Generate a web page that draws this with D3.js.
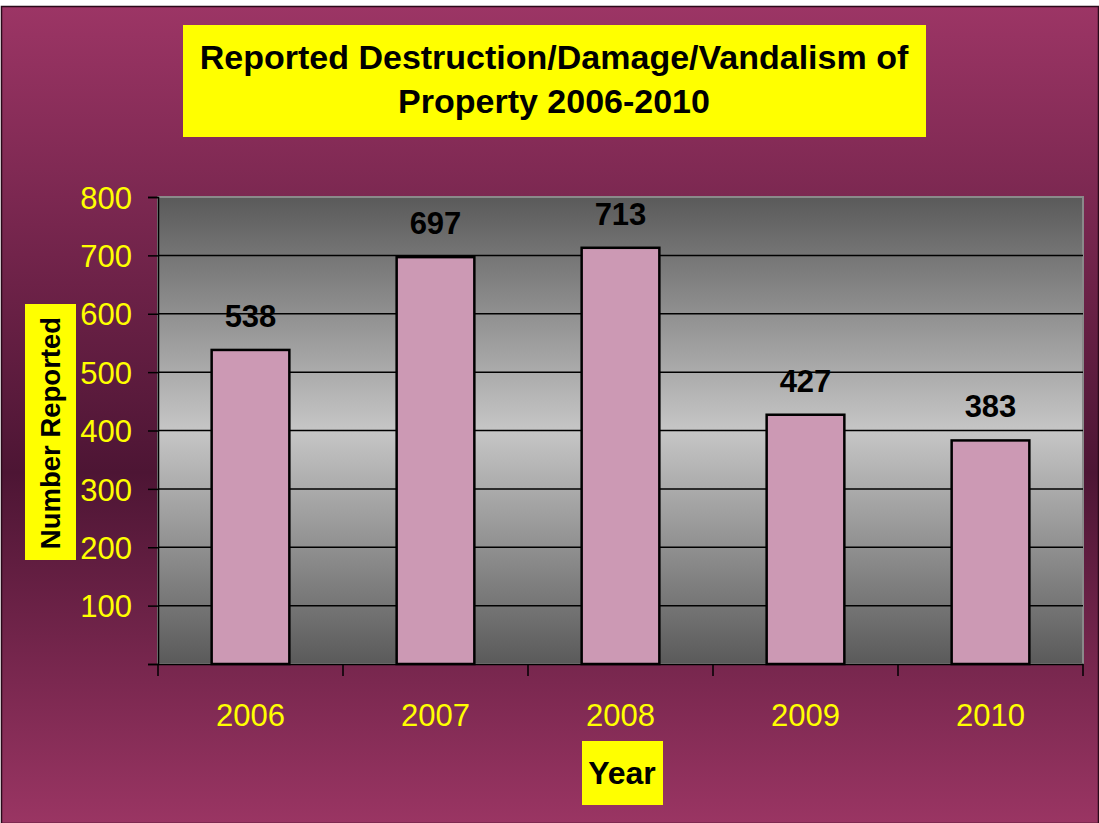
<!DOCTYPE html>
<html>
<head>
<meta charset="utf-8">
<script src="https://cdn.jsdelivr.net/npm/d3@7"></script>
<style>
  body { margin: 0; background: #fff; }
  svg { display: block; }
  text { font-family: "Liberation Sans", Arial, sans-serif; }
</style>
</head>
<body>
<svg id="chart" width="1099" height="823"></svg>
<script>
// data
var years = ["2006", "2007", "2008", "2009", "2010"];
var reported = [538, 697, 713, 427, 383];
var yTicks = [100, 200, 300, 400, 500, 600, 700, 800];
var titleLines = ["Reported Destruction/Damage/Vandalism of", "Property 2006-2010"];

var svg = d3.select("#chart"),
    width = +svg.attr("width"),
    height = +svg.attr("height");

var margin = {left: 158, right: 1083, top: 197, bottom: 664};

var defs = svg.append("defs");

var bg = defs.append("linearGradient").attr("id", "bgGrad")
    .attr("x1", 0).attr("y1", 0).attr("x2", 0).attr("y2", 1);
bg.append("stop").attr("offset", "0%").attr("stop-color", "#9c3565");
bg.append("stop").attr("offset", "57%").attr("stop-color", "#4d1534");
bg.append("stop").attr("offset", "100%").attr("stop-color", "#9a3563");

var pg = defs.append("linearGradient").attr("id", "plotGrad")
    .attr("x1", 0).attr("y1", 0).attr("x2", 0).attr("y2", 1);
pg.append("stop").attr("offset", "0%").attr("stop-color", "#5a5a5a");
pg.append("stop").attr("offset", "50%").attr("stop-color", "#c6c6c6");
pg.append("stop").attr("offset", "100%").attr("stop-color", "#5a5a5a");

// outer frame
svg.append("rect")
    .attr("x", 1.5).attr("y", 6.5)
    .attr("width", width - 2).attr("height", height - 6)
    .attr("fill", "url(#bgGrad)")
    .attr("stroke", "#2a0a1a").attr("stroke-width", 1.5);

var x = d3.scaleBand()
    .domain(years)
    .range([margin.left, margin.right])
    .paddingInner(0.58)
    .paddingOuter(0.29);

var band = d3.scaleBand().domain(years).range([margin.left, margin.right]);

var y = d3.scaleLinear()
    .domain([0, 800])
    .range([margin.bottom, margin.top]);

// plot area
svg.append("rect")
    .attr("x", margin.left).attr("y", margin.top)
    .attr("width", margin.right - margin.left)
    .attr("height", margin.bottom - margin.top)
    .attr("fill", "url(#plotGrad)")
    .attr("stroke", "#8a8a8a").attr("stroke-width", 2);

// gridlines
svg.append("g").selectAll("line")
    .data(yTicks.filter(function(d) { return d < 800; }))
    .enter().append("line")
    .attr("x1", margin.left).attr("x2", margin.right)
    .attr("y1", function(d) { return y(d); })
    .attr("y2", function(d) { return y(d); })
    .attr("stroke", "#000").attr("stroke-width", 1.5);

// y axis
var yAxis = svg.append("g")
    .attr("transform", "translate(" + margin.left + ",0)")
    .call(d3.axisLeft(y).tickValues([0].concat(yTicks)).tickSize(10).tickPadding(16)
        .tickFormat(function(d) { return d === 0 ? "" : d; }));
yAxis.select(".domain").attr("stroke", "#000").attr("stroke-width", 1.5);
yAxis.selectAll(".tick line").attr("stroke", "#000").attr("stroke-width", 1.5);
yAxis.selectAll(".tick text")
    .attr("fill", "#ffff00")
    .style("font-size", "31px")
    .attr("dy", "0.36em");

// x axis
var xAxis = svg.append("g")
    .attr("transform", "translate(0," + margin.bottom + ")")
    .call(d3.axisBottom(band).tickSize(0).tickPadding(40));
xAxis.select(".domain").attr("stroke", "#000").attr("stroke-width", 1.5);
xAxis.selectAll(".tick text")
    .attr("fill", "#ffff00")
    .style("font-size", "31px");

// x ticks at band boundaries
var bounds = years.map(function(d) { return band(d); }).concat([margin.right]);
svg.append("g").selectAll("line")
    .data(bounds)
    .enter().append("line")
    .attr("x1", function(d) { return d; })
    .attr("x2", function(d) { return d; })
    .attr("y1", margin.bottom).attr("y2", margin.bottom + 12)
    .attr("stroke", "#000").attr("stroke-width", 1.5);

// bars
svg.append("g").selectAll("rect")
    .data(reported)
    .enter().append("rect")
    .attr("x", function(d, i) { return x(years[i]); })
    .attr("y", function(d) { return y(d); })
    .attr("width", x.bandwidth())
    .attr("height", function(d) { return y(0) - y(d); })
    .attr("fill", "#cc99b4")
    .attr("stroke", "#000").attr("stroke-width", 2.5);

// value labels
svg.append("g").selectAll("text")
    .data(reported)
    .enter().append("text")
    .attr("x", function(d, i) { return x(years[i]) + x.bandwidth() / 2; })
    .attr("y", function(d) { return y(d) - 23; })
    .attr("text-anchor", "middle")
    .attr("font-weight", "bold")
    .attr("font-size", "31px")
    .attr("fill", "#000")
    .text(function(d) { return d; });

// title
svg.append("rect")
    .attr("x", 183).attr("y", 25).attr("width", 743).attr("height", 112)
    .attr("fill", "#ffff00");
svg.append("g").selectAll("text")
    .data(titleLines)
    .enter().append("text")
    .attr("x", 554)
    .attr("y", function(d, i) { return 69 + i * 44; })
    .attr("text-anchor", "middle")
    .attr("font-weight", "bold")
    .attr("font-size", "34px")
    .attr("fill", "#000")
    .text(function(d) { return d; });

// y axis title
svg.append("rect")
    .attr("x", 25).attr("y", 304).attr("width", 51).attr("height", 256)
    .attr("fill", "#ffff00");
svg.append("text")
    .attr("transform", "translate(60,433) rotate(-90)")
    .attr("text-anchor", "middle")
    .attr("font-weight", "bold")
    .attr("font-size", "27.5px")
    .attr("fill", "#000")
    .text("Number Reported");

// x axis title
svg.append("rect")
    .attr("x", 582).attr("y", 741).attr("width", 81).attr("height", 64)
    .attr("fill", "#ffff00");
svg.append("text")
    .attr("x", 622).attr("y", 784)
    .attr("text-anchor", "middle")
    .attr("font-weight", "bold")
    .attr("font-size", "32px")
    .attr("fill", "#000")
    .text("Year");
</script>
</body>
</html>
